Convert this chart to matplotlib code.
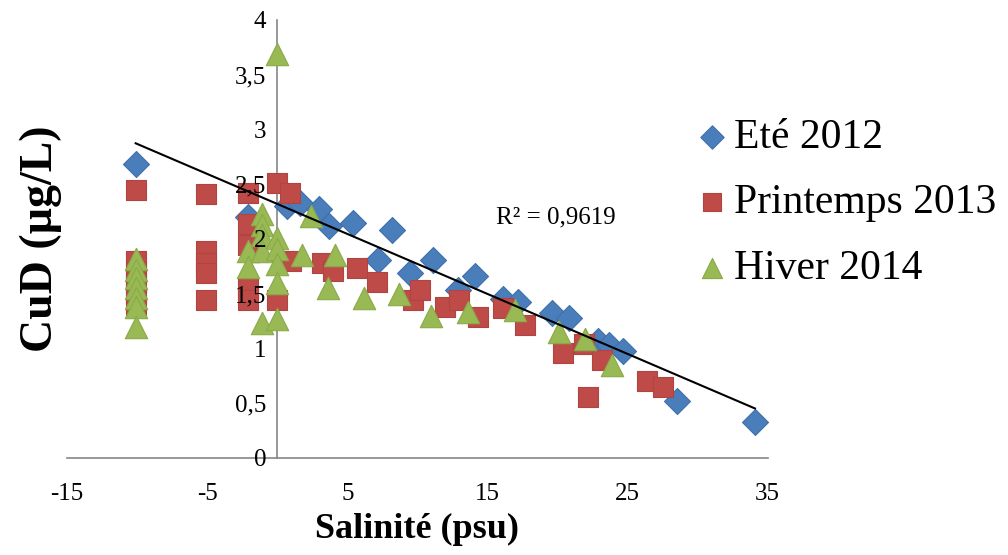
import numpy as np
import matplotlib.pyplot as plt

plt.rcParams['font.family'] = ['Liberation Serif', 'DejaVu Serif']
plt.rcParams['axes.unicode_minus'] = False

# Eté 2012
ete_x = [-10.1, -2.1, 0.7, 1.6, 3.0, 3.7, 5.4, 8.2, 7.2, 9.5, 11.1, 14.1, 12.9,
         16.1, 17.2, 19.6, 20.8, 22.9, 23.7, 24.7, 28.5, 34.1]
ete_y = [2.68, 2.20, 2.30, 2.33, 2.27, 2.12, 2.15, 2.08, 1.81, 1.69, 1.81, 1.66, 1.53,
         1.45, 1.42, 1.32, 1.28, 1.07, 1.03, 0.98, 0.52, 0.33]

# Printemps 2013
print_x = [-10.1, -10.1, -10.1, -10.1, -10.1, -10.1,
           -5.1, -5.1, -5.1, -5.1, -5.1,
           -2.1, -2.1, -2.1, -2.1, -2.1,
           0.0, 0.9, 0.0, 1.0, 3.2, 4.0, 5.7, 7.1, 9.7, 10.2, 12.0, 13.0,
           14.3, 16.1, 17.7, 20.4, 21.9, 23.2, 22.2, 26.4, 27.5]
print_y = [2.45, 1.80, 1.70, 1.60, 1.50, 1.40,
           2.41, 1.89, 1.78, 1.69, 1.44,
           2.42, 2.14, 1.94, 1.55, 1.44,
           2.51, 2.42, 1.44, 1.80, 1.78, 1.71, 1.73, 1.61, 1.44, 1.53, 1.38, 1.44,
           1.29, 1.37, 1.21, 0.96, 1.04, 0.89, 0.56, 0.70, 0.65]

# Hiver 2014
hiver_x = [-10.1, -10.1, -10.1, -10.1, -10.1, -10.1, -10.1,
           -1.1, -1.1, -1.1, 0.0, -2.1, -1.1, 0.0, 0.0, -2.1, 0.0, -1.1, 0.0,
           0.0, 2.4, 1.8, 4.1, 3.6, 6.2, 8.7, 11.0, 13.6, 17.0, 20.1, 22.0, 23.9]
hiver_y = [1.82, 1.72, 1.64, 1.55, 1.46, 1.38, 1.20,
           2.23, 2.13, 2.04, 2.01, 1.89, 1.89, 1.91, 1.77, 1.74, 1.60, 1.23, 1.27,
           3.69, 2.21, 1.85, 1.85, 1.55, 1.46, 1.50, 1.30, 1.33, 1.35, 1.15, 1.09, 0.85]

# linear trend (Excel trendline)
trend_slope = -0.0548
trend_intercept = 2.32
r2_label = "R² = 0,9619"

fig = plt.figure(figsize=(10.08, 5.55), dpi=100)
ax = fig.add_axes([0.0665, 0.175, 0.695, 0.789])

blue = '#4A7EBB'
red = '#BE4B48'
green = '#98B954'

ax.scatter(ete_x, ete_y, marker='D', s=175, color=blue, edgecolors='#3F70AA', linewidths=0.8,
           label='Eté 2012', zorder=3)
ax.scatter(print_x, print_y, marker='s', s=215, color=red, edgecolors='#B04440', linewidths=0.8,
           label='Printemps 2013', zorder=3)
ax.scatter(hiver_x, hiver_y, marker='^', s=260, color=green, edgecolors='#8AAA48', linewidths=0.8,
           label='Hiver 2014', zorder=3)

all_x = np.concatenate([ete_x, print_x, hiver_x])
tx = np.array([all_x.min(), all_x.max()])
ax.plot(tx, trend_intercept + trend_slope * tx, color='black', lw=1.5, zorder=4)
ax.text(19.9, 2.2, r2_label, fontsize=18, ha='center', va='center')

ax.set_xlim(-15, 35)
ax.set_ylim(0, 4)
ax.set_xticks([-15, -5, 5, 15, 25, 35])
ax.set_yticks(np.arange(0, 4.01, 0.5))
ax.set_yticklabels([('%g' % v).replace('.', ',') for v in np.arange(0, 4.01, 0.5)])
ax.tick_params(labelsize=18, length=0)
ax.tick_params(axis='x', pad=18)
ax.tick_params(axis='y', pad=8)
# y tick labels sit on top of the markers, as in the original
ax.yaxis.set_zorder(5)

ax.spines['left'].set_position(('data', 0))
for s in ['top', 'right']:
    ax.spines[s].set_visible(False)
for s in ['left', 'bottom']:
    ax.spines[s].set_color('#868686')
    ax.spines[s].set_linewidth(1.2)

ax.set_xlabel('Salinité (psu)', fontsize=26, fontweight='bold', labelpad=6)
fig.text(0.04, 0.57, 'CuD (µg/L)', fontsize=33, fontweight='bold', rotation=90,
         ha='center', va='center')

leg = fig.legend(loc='upper left', bbox_to_anchor=(0.696, 0.786), frameon=False, fontsize=30,
                 handlelength=0.5, handletextpad=0.27, labelspacing=0.64, markerscale=0.9,
                 borderpad=0, borderaxespad=0)

fig.savefig('out.png', dpi=100)
